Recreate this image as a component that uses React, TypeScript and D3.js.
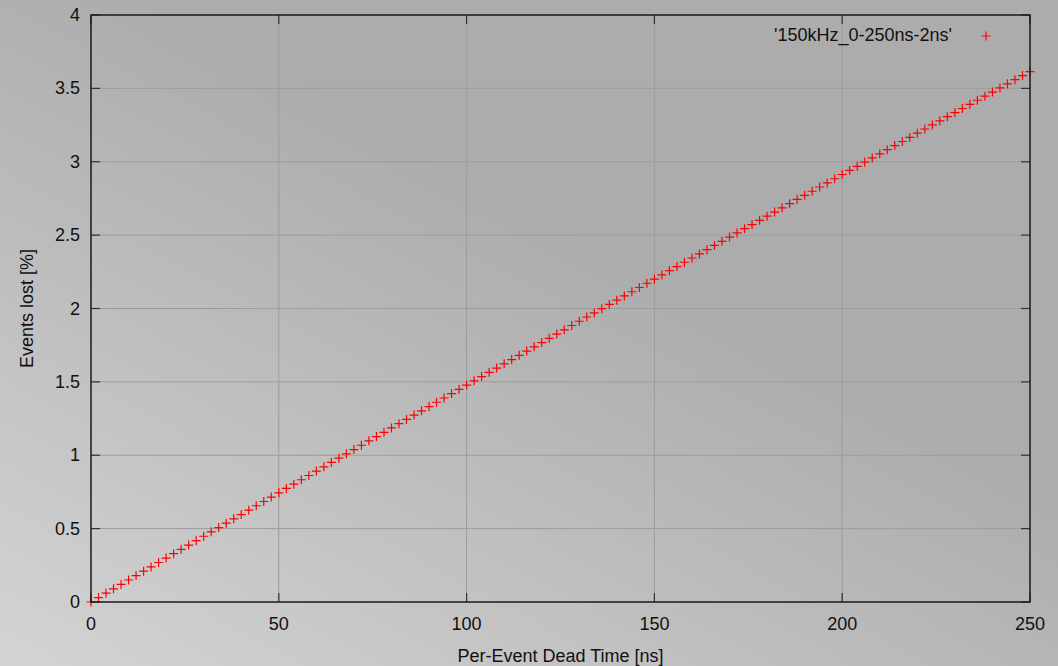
import { useEffect, useRef } from 'react';
import * as d3 from 'd3';

// Per-event dead time [ns]
const deadTimes = [
  0, 2, 4, 6, 8, 10, 12, 14, 16, 18, 20, 22, 24, 26, 28, 30, 32, 34, 36, 38,
  40, 42, 44, 46, 48, 50, 52, 54, 56, 58, 60, 62, 64, 66, 68, 70, 72, 74, 76, 78,
  80, 82, 84, 86, 88, 90, 92, 94, 96, 98, 100, 102, 104, 106, 108, 110, 112, 114, 116, 118,
  120, 122, 124, 126, 128, 130, 132, 134, 136, 138, 140, 142, 144, 146, 148, 150, 152, 154, 156, 158,
  160, 162, 164, 166, 168, 170, 172, 174, 176, 178, 180, 182, 184, 186, 188, 190, 192, 194, 196, 198,
  200, 202, 204, 206, 208, 210, 212, 214, 216, 218, 220, 222, 224, 226, 228, 230, 232, 234, 236, 238,
  240, 242, 244, 246, 248, 250,
];

// Events lost [%]
const eventsLost = [
  0, 0.030, 0.060, 0.090, 0.120, 0.150, 0.180, 0.210, 0.239, 0.269,
  0.299, 0.329, 0.359, 0.388, 0.418, 0.448, 0.478, 0.507, 0.537, 0.567,
  0.596, 0.626, 0.656, 0.685, 0.715, 0.744, 0.774, 0.803, 0.833, 0.862,
  0.892, 0.921, 0.951, 0.980, 1.010, 1.039, 1.068, 1.098, 1.127, 1.156,
  1.186, 1.215, 1.244, 1.274, 1.303, 1.332, 1.361, 1.390, 1.420, 1.449,
  1.478, 1.507, 1.536, 1.565, 1.594, 1.623, 1.652, 1.681, 1.710, 1.739,
  1.768, 1.797, 1.826, 1.855, 1.884, 1.913, 1.942, 1.970, 1.999, 2.028,
  2.057, 2.086, 2.114, 2.143, 2.172, 2.200, 2.229, 2.258, 2.286, 2.315,
  2.344, 2.372, 2.401, 2.430, 2.458, 2.487, 2.515, 2.544, 2.572, 2.601,
  2.629, 2.657, 2.686, 2.714, 2.743, 2.771, 2.799, 2.828, 2.856, 2.884,
  2.913, 2.941, 2.969, 2.997, 3.026, 3.054, 3.082, 3.110, 3.138, 3.166,
  3.195, 3.223, 3.251, 3.279, 3.307, 3.335, 3.363, 3.391, 3.419, 3.447,
  3.475, 3.503, 3.531, 3.559, 3.587, 3.614,
];

const xTicks = [0, 50, 100, 150, 200, 250];
const yTicks = [0, 0.5, 1, 1.5, 2, 2.5, 3, 3.5, 4];
const seriesName = "'150kHz_0-250ns-2ns'";

const W = 1058;
const H = 666;

const App = () => {
  const svgRef = useRef<SVGSVGElement>(null);

  useEffect(() => {
    if (!svgRef.current) return;
    const svg = d3.select(svgRef.current);
    svg.selectAll('*').remove();

    const margin = { top: 15, right: 28, bottom: 64, left: 91 };
    const width = W - margin.left - margin.right;
    const height = H - margin.top - margin.bottom;
    const font = '"Liberation Sans", Arial, Helvetica, sans-serif';

    // background gradient, light in the lower left corner
    const defs = svg.append('defs');
    const bg = defs.append('linearGradient')
      .attr('id', 'bg-grad')
      .attr('x1', 0).attr('y1', 1)
      .attr('x2', 0.55).attr('y2', 0.35);
    bg.append('stop').attr('offset', '0%').attr('stop-color', '#d4d4d4');
    bg.append('stop').attr('offset', '100%').attr('stop-color', '#acacac');

    svg.append('rect')
      .attr('width', W)
      .attr('height', H)
      .attr('fill', 'url(#bg-grad)');

    const g = svg.append('g')
      .attr('transform', `translate(${margin.left},${margin.top})`);

    const x = d3.scaleLinear().domain([0, 250]).range([0, width]);
    const y = d3.scaleLinear().domain([0, 4]).range([height, 0]);

    // grid
    g.append('g')
      .selectAll('line')
      .data(xTicks.slice(1, -1))
      .enter()
      .append('line')
      .attr('x1', d => x(d)).attr('x2', d => x(d))
      .attr('y1', 0).attr('y2', height)
      .attr('stroke', '#9c9c9c')
      .attr('stroke-width', 1);

    g.append('g')
      .selectAll('line')
      .data(yTicks.slice(1, -1))
      .enter()
      .append('line')
      .attr('y1', d => y(d)).attr('y2', d => y(d))
      .attr('x1', 0).attr('x2', width)
      .attr('stroke', '#9c9c9c')
      .attr('stroke-width', 1);

    // inward ticks on all four sides
    const tickLen = 9;
    const tickStyle = (sel: any) => sel
      .attr('stroke', '#333')
      .attr('stroke-width', 1.2);

    const ticks = g.append('g');
    xTicks.forEach(t => {
      tickStyle(ticks.append('line')
        .attr('x1', x(t)).attr('x2', x(t))
        .attr('y1', height).attr('y2', height - tickLen));
      tickStyle(ticks.append('line')
        .attr('x1', x(t)).attr('x2', x(t))
        .attr('y1', 0).attr('y2', tickLen));
    });
    yTicks.forEach(t => {
      tickStyle(ticks.append('line')
        .attr('y1', y(t)).attr('y2', y(t))
        .attr('x1', 0).attr('x2', tickLen));
      tickStyle(ticks.append('line')
        .attr('y1', y(t)).attr('y2', y(t))
        .attr('x1', width).attr('x2', width - tickLen));
    });

    // tick labels
    g.append('g')
      .selectAll('text')
      .data(xTicks)
      .enter()
      .append('text')
      .attr('x', d => x(d))
      .attr('y', height + 28)
      .attr('text-anchor', 'middle')
      .style('font-family', font)
      .style('font-size', '18px')
      .style('fill', '#111')
      .text(d => d);

    g.append('g')
      .selectAll('text')
      .data(yTicks)
      .enter()
      .append('text')
      .attr('x', -11)
      .attr('y', d => y(d) + 6)
      .attr('text-anchor', 'end')
      .style('font-family', font)
      .style('font-size', '18px')
      .style('fill', '#111')
      .text(d => d);

    // axis titles
    svg.append('text')
      .attr('x', margin.left + width / 2)
      .attr('y', 662)
      .attr('text-anchor', 'middle')
      .style('font-family', font)
      .style('font-size', '18px')
      .style('fill', '#111')
      .text('Per-Event Dead Time [ns]');

    svg.append('text')
      .attr('transform', `translate(33,${margin.top + height / 2}) rotate(-90)`)
      .attr('text-anchor', 'middle')
      .style('font-family', font)
      .style('font-size', '18px')
      .style('fill', '#111')
      .text('Events lost [%]');

    // data points (crosses)
    const cross = 'M-4.5,0H4.5M0,-4.5V4.5';
    g.append('g')
      .selectAll('path')
      .data(deadTimes.map((d, i) => ({ t: d, v: eventsLost[i] })))
      .enter()
      .append('path')
      .attr('transform', d => `translate(${x(d.t)},${y(d.v)})`)
      .attr('d', cross)
      .attr('stroke', '#ff0000')
      .attr('stroke-width', 1.2)
      .attr('fill', 'none');

    // legend
    g.append('text')
      .attr('x', 861)
      .attr('y', 26)
      .attr('text-anchor', 'end')
      .style('font-family', font)
      .style('font-size', '18px')
      .style('fill', '#111')
      .text(seriesName);
    g.append('path')
      .attr('transform', 'translate(895,21)')
      .attr('d', cross)
      .attr('stroke', '#ff0000')
      .attr('stroke-width', 1.2)
      .attr('fill', 'none');

    // frame
    g.append('rect')
      .attr('width', width)
      .attr('height', height)
      .attr('fill', 'none')
      .attr('stroke', '#1a1a1a')
      .attr('stroke-width', 1.5);
  }, []);

  return (
    <svg
      ref={svgRef}
      width={W}
      height={H}
      style={{ position: 'absolute', left: 0, top: 0, display: 'block' }}
    />
  );
};

export default App;
